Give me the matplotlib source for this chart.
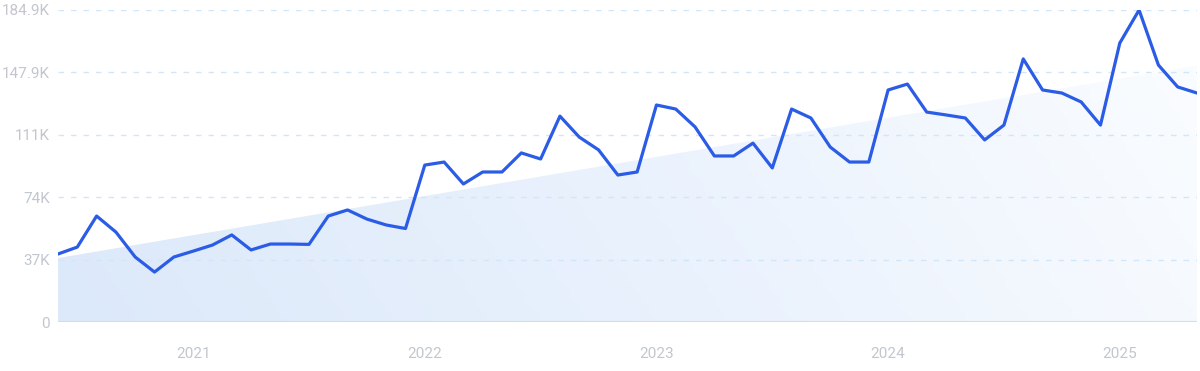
import numpy as np
import matplotlib
matplotlib.use("Agg")
import matplotlib.pyplot as plt
from matplotlib.colors import LinearSegmentedColormap

# Monthly values from Jun 2020 to May 2025 (thousands)
values = [40.3, 44.4, 62.8, 53.3, 38.5, 29.6, 38.5,
          42.0, 45.6, 51.6, 42.7, 46.2, 46.2, 46.0, 62.8, 66.4, 61.0, 57.5, 55.4,
          93.0, 94.8, 81.8, 88.9, 88.9, 100.2, 96.6, 122.0, 109.6, 102.0, 87.1, 88.9,
          128.6, 126.2, 115.6, 98.4, 98.4, 106.0, 91.3, 126.2, 120.9, 103.7, 94.8, 94.8,
          137.5, 141.0, 124.4, 122.7, 120.9, 107.9, 116.7, 155.9, 137.5, 135.7, 130.4, 116.7,
          165.3, 184.9, 152.3, 139.3, 135.7]
trend_start = 37.9
trend_end = 152.0
year_labels = ["2021", "2022", "2023", "2024", "2025"]
year_positions = [7, 19, 31, 43, 55]
y_ticks = [0, 37, 74, 111, 147.9, 184.9]
y_tick_labels = ["0", "37K", "74K", "111K", "147.9K", "184.9K"]

x = np.arange(len(values))
trend = np.linspace(trend_start, trend_end, len(values))

fig = plt.figure(figsize=(12, 3.71), dpi=100)
ax = fig.add_axes([58/1200, 49/371, (1197-58)/1200, 312/371])
ax.set_xlim(0, len(values) - 1)
ax.set_ylim(0, 184.9)

# gradient fill under trend
poly = ax.fill_between(x, 0, trend, color="none", lw=0)
gx = np.linspace(0, 1, 256)
gy = np.linspace(0, 1, 64)
GX, GY = np.meshgrid(gx, gy)
G = 0.85 * GX + 0.15 * (1 - GY)
cmap = LinearSegmentedColormap.from_list("g", ["#dce9fa", "#eaf2fd", "#fbfdff"])
im = ax.imshow(G, cmap=cmap, aspect="auto", extent=[0, len(values) - 1, 0, 184.9],
               origin="upper", zorder=1, vmin=0, vmax=1)
im.set_clip_path(poly.get_paths()[0], transform=ax.transData)

for t in y_ticks[1:]:
    ax.axhline(t, color="#d2e6fa", lw=1, ls=(0, (4, 5)), zorder=2)
ax.axhline(0, color="#c4e0fb", lw=1.5, zorder=2)

ax.plot(x, values, color="#2b5ce6", lw=2.3, zorder=3, solid_joinstyle="round")

for s in ax.spines.values():
    s.set_visible(False)
ax.set_yticks(y_ticks)
ax.set_yticklabels(y_tick_labels)
ax.set_xticks(year_positions)
ax.set_xticklabels(year_labels)
ax.tick_params(axis="both", length=0, labelsize=11, labelcolor="#c2c6ce")
ax.tick_params(axis="y", pad=6)
ax.tick_params(axis="x", pad=18)
for lbl in ax.get_xticklabels() + ax.get_yticklabels():
    lbl.set_fontfamily("Roboto")

fig.savefig("out.png", dpi=100)
